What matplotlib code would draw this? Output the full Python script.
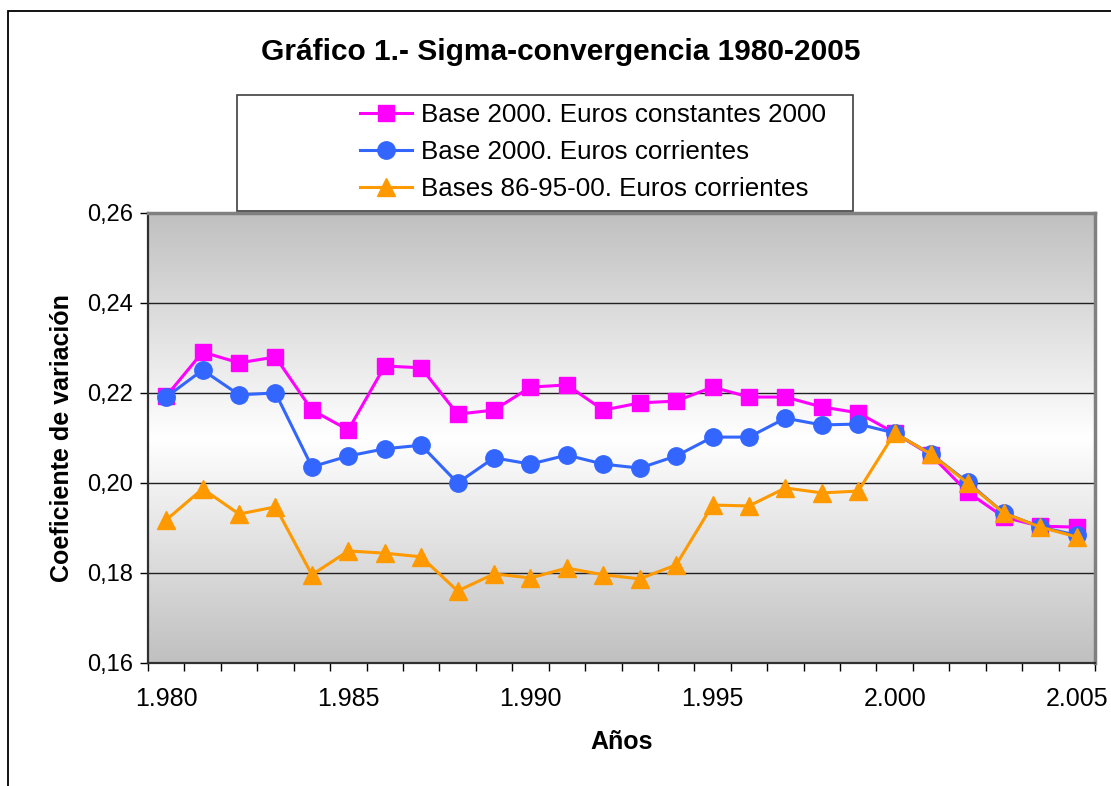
import numpy as np
import matplotlib
matplotlib.use("Agg")
import matplotlib.pyplot as plt
from matplotlib.patches import Rectangle
from matplotlib.ticker import FuncFormatter, FixedLocator

plt.rcParams['font.family'] = ['Liberation Sans', 'DejaVu Sans']

years = list(range(1980, 2006))
constantes_2000 = [0.2193, 0.2291, 0.2267, 0.2280, 0.2162, 0.2118, 0.2260, 0.2256, 0.2153,
                   0.2162, 0.2213, 0.2218, 0.2162, 0.2178, 0.2182, 0.2213, 0.2191, 0.2191,
                   0.2169, 0.2156, 0.2111, 0.2062, 0.1980, 0.1924, 0.1904, 0.1902]
corrientes_2000 = [0.2191, 0.2251, 0.2196, 0.2200, 0.2036, 0.2060, 0.2076, 0.2084, 0.2000,
                   0.2056, 0.2042, 0.2062, 0.2042, 0.2033, 0.2060, 0.2102, 0.2102, 0.2144,
                   0.2129, 0.2131, 0.2111, 0.2064, 0.2002, 0.1933, 0.1902, 0.1884]
bases_86_95_00 = [0.1918, 0.1987, 0.1931, 0.1947, 0.1796, 0.1849, 0.1844, 0.1836, 0.1760,
                  0.1798, 0.1789, 0.1811, 0.1796, 0.1787, 0.1818, 0.1951, 0.1949, 0.1989,
                  0.1978, 0.1982, 0.2111, 0.2064, 0.2000, 0.1933, 0.1902, 0.1880]
labels = ["Base 2000. Euros constantes 2000", "Base 2000. Euros corrientes",
          "Bases 86-95-00. Euros corrientes"]

W, H = 1111, 786
fig = plt.figure(figsize=(W / 100, H / 100), dpi=100)

# outer chart frame (only left/top visible)
fig.patches.append(Rectangle((8 / W, -0.1), 1.2, 1 - 11 / H + 0.1, transform=fig.transFigure,
                             fill=False, edgecolor='black', lw=1.3))

ax = fig.add_axes([148 / W, 1 - 663 / H, (1095 - 148) / W, (663 - 213) / H])

# vertical gradient background grey -> white -> grey
g = np.abs(np.linspace(-1, 1, 256))
grad = 1 - (1 - 0.753) * g
ax.imshow(np.dstack([grad, grad, grad])[0][:, None, :], aspect='auto',
          extent=[1979.5, 2005.5, 0.16, 0.26], origin='lower', zorder=0,
          interpolation='bilinear')

ax.set_xlim(1979.5, 2005.5)
ax.set_ylim(0.16, 0.26)

for yv in [0.18, 0.20, 0.22, 0.24]:
    ax.axhline(yv, color='#202020', lw=1.0, zorder=1)

ax.plot(years, constantes_2000, color='#FF00FF', marker='s', ms=11.5, lw=2.2, zorder=3,
        label=labels[0])
ax.plot(years, corrientes_2000, color='#3366FF', marker='o', ms=12.5, lw=2.2, zorder=4,
        label=labels[1])
ax.plot(years, bases_86_95_00, color='#FF9900', marker='^', ms=12.5, lw=2.2, zorder=5,
        label=labels[2])

ax.set_yticks([0.16, 0.18, 0.20, 0.22, 0.24, 0.26])
ax.yaxis.set_major_formatter(FuncFormatter(lambda v, p: f"{v:.2f}".replace('.', ',')))
ax.tick_params(axis='y', length=6, width=1, pad=5, labelsize=17, direction='out')

# ticks at category boundaries, labels at category centres
ax.xaxis.set_major_locator(FixedLocator(np.arange(1979.5, 2006, 1)))
ax.xaxis.set_major_formatter(FuncFormatter(lambda v, p: ''))
ax.xaxis.set_minor_locator(FixedLocator([1980, 1985, 1990, 1995, 2000, 2005]))
ax.xaxis.set_minor_formatter(FuncFormatter(lambda v, p: f"{int(v) // 1000}.{int(v) % 1000:03d}"))
ax.tick_params(axis='x', which='major', length=6, width=1, direction='out')
ax.tick_params(axis='x', which='minor', length=0, pad=17, labelsize=18)

for s in ['left', 'bottom']:
    ax.spines[s].set_color('#303030')
    ax.spines[s].set_linewidth(1.6)
for s in ['top', 'right']:
    ax.spines[s].set_color('#808080')
    ax.spines[s].set_linewidth(2.5)

ax.set_ylabel("Coeficiente de variación", fontsize=18, fontweight='bold', labelpad=9)
ax.set_xlabel("Años", fontsize=18, fontweight='bold', labelpad=14)

fig.text(561 / W, 1 - 52 / H, "Gráfico 1.- Sigma-convergencia 1980-2005", fontsize=21.5,
         fontweight='bold', ha='center', va='center')

# legend box
fig.patches.append(Rectangle((237 / W, 1 - 211 / H), (853 - 237) / W, (211 - 95) / H,
                             transform=fig.transFigure, fill=True, facecolor='white',
                             edgecolor='#404040', lw=1.2, zorder=2))
leg = fig.legend(loc='upper left', bbox_to_anchor=(360 / W, 1 - 103 / H), frameon=False,
                 fontsize=18.7, handlelength=2.0, handletextpad=0.35, labelspacing=0.5,
                 borderpad=0.0, borderaxespad=0.0)
leg.set_zorder(3)

fig.savefig("out.png", dpi=100)
